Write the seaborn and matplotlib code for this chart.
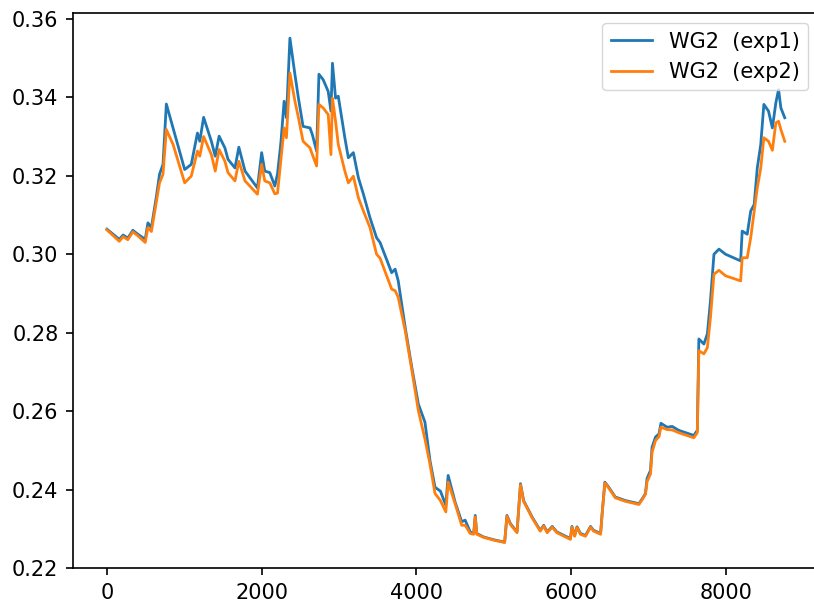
import matplotlib
matplotlib.use("Agg")
import matplotlib.pyplot as plt
import seaborn as sns

# ------------------ Data ------------------
hours = [0, 160, 210, 270, 335, 400, 495, 530, 575, 640, 680, 725, 768, 855,
         1005, 1090, 1170, 1200, 1250, 1350, 1400, 1450, 1525, 1565, 1655,
         1705, 1785, 1945, 2000, 2040, 2105, 2170, 2205, 2250, 2290, 2320,
         2365, 2430, 2475, 2535, 2625, 2655, 2710, 2740, 2795, 2860, 2895,
         2915, 2955, 2990, 3075, 3120, 3185, 3250, 3315, 3400, 3485, 3530,
         3680, 3725, 3765, 3855, 3940, 4025, 4110, 4175, 4240, 4310, 4380,
         4410, 4500, 4585, 4630, 4695, 4740, 4760, 4780, 4870, 5020, 5140,
         5170, 5215, 5300, 5345, 5385, 5495, 5600, 5645, 5690, 5755, 5815,
         5990, 6010, 6045, 6075, 6120, 6185, 6250, 6290, 6380, 6400, 6435,
         6485, 6570, 6700, 6875, 6920, 6960, 6980, 7025, 7045, 7090, 7135,
         7160, 7240, 7305, 7390, 7585, 7630, 7650, 7715, 7760, 7800, 7845,
         7910, 7995, 8190, 8210, 8275, 8320, 8365, 8405, 8450, 8490, 8550,
         8600, 8645, 8680, 8710, 8760]

exp1 = [0.3064, 0.3038, 0.3049, 0.3041, 0.3061, 0.3051, 0.3038, 0.3080, 0.3068,
        0.3148, 0.3204, 0.3229, 0.3383, 0.3322, 0.3216, 0.3229, 0.3309, 0.3288,
        0.3349, 0.3288, 0.3250, 0.3301, 0.3271, 0.3242, 0.3220, 0.3273, 0.3212,
        0.3169, 0.3259, 0.3212, 0.3208, 0.3174, 0.3205, 0.3288, 0.3390, 0.3348,
        0.3551, 0.3458, 0.3398, 0.3326, 0.3322, 0.3305, 0.3263, 0.3459, 0.3445,
        0.3415, 0.3365, 0.3487, 0.3398, 0.3403, 0.3297, 0.3246, 0.3259, 0.3195,
        0.3153, 0.3093, 0.3042, 0.3030, 0.2953, 0.2962, 0.2932, 0.2813, 0.2712,
        0.2618, 0.2572, 0.2474, 0.2406, 0.2396, 0.2360, 0.2436, 0.2368, 0.2318,
        0.2322, 0.2292, 0.2288, 0.2334, 0.2288, 0.2279, 0.2271, 0.2266, 0.2334,
        0.2313, 0.2292, 0.2415, 0.2372, 0.2330, 0.2296, 0.2309, 0.2292, 0.2306,
        0.2292, 0.2275, 0.2306, 0.2283, 0.2305, 0.2288, 0.2283, 0.2306, 0.2296,
        0.2288, 0.2339, 0.2419, 0.2406, 0.2381, 0.2372, 0.2364, 0.2377, 0.2390,
        0.2428, 0.2449, 0.2508, 0.2534, 0.2542, 0.2569, 0.2559, 0.2561, 0.2551,
        0.2538, 0.2551, 0.2784, 0.2771, 0.2797, 0.2881, 0.3000, 0.3013, 0.3000,
        0.2983, 0.3059, 0.3051, 0.3110, 0.3127, 0.3220, 0.3280, 0.3382, 0.3365,
        0.3322, 0.3386, 0.3420, 0.3373, 0.3348]

exp2 = [0.3062, 0.3033, 0.3045, 0.3037, 0.3057, 0.3047, 0.3030, 0.3068, 0.3058,
        0.3135, 0.3182, 0.3204, 0.3318, 0.3280, 0.3182, 0.3199, 0.3263, 0.3250,
        0.3300, 0.3254, 0.3212, 0.3267, 0.3237, 0.3208, 0.3187, 0.3237, 0.3187,
        0.3153, 0.3229, 0.3187, 0.3182, 0.3154, 0.3156, 0.3245, 0.3322, 0.3297,
        0.3462, 0.3390, 0.3348, 0.3288, 0.3271, 0.3254, 0.3225, 0.3382, 0.3373,
        0.3356, 0.3254, 0.3398, 0.3339, 0.3280, 0.3212, 0.3182, 0.3199, 0.3144,
        0.3110, 0.3068, 0.3000, 0.2990, 0.2911, 0.2907, 0.2890, 0.2805, 0.2705,
        0.2601, 0.2529, 0.2465, 0.2390, 0.2372, 0.2343, 0.2419, 0.2364, 0.2309,
        0.2309, 0.2288, 0.2286, 0.2330, 0.2286, 0.2278, 0.2270, 0.2265, 0.2332,
        0.2311, 0.2290, 0.2412, 0.2370, 0.2328, 0.2294, 0.2307, 0.2290, 0.2304,
        0.2290, 0.2273, 0.2304, 0.2281, 0.2303, 0.2286, 0.2281, 0.2304, 0.2294,
        0.2286, 0.2337, 0.2417, 0.2404, 0.2379, 0.2370, 0.2362, 0.2375, 0.2388,
        0.2420, 0.2440, 0.2495, 0.2525, 0.2535, 0.2559, 0.2553, 0.2552, 0.2545,
        0.2532, 0.2545, 0.2754, 0.2746, 0.2762, 0.2839, 0.2949, 0.2959, 0.2945,
        0.2932, 0.2991, 0.2991, 0.3042, 0.3110, 0.3169, 0.3220, 0.3297, 0.3288,
        0.3265, 0.3335, 0.3339, 0.3318, 0.3288]

labels = ['WG2  (exp1)', 'WG2  (exp2)']

# ------------------ Plot ------------------
plt.rcParams['font.size'] = 15
plt.rcParams['axes.linewidth'] = 1.2
for ax_name in ('xtick', 'ytick'):
    plt.rcParams[ax_name + '.major.size'] = 5.25
    plt.rcParams[ax_name + '.major.width'] = 1.2
    plt.rcParams[ax_name + '.major.pad'] = 5.25

fig = plt.figure(figsize=(8.14, 6.06), dpi=100)
ax = fig.add_axes([0.0897, 0.0627, 0.916, 0.916])

sns.lineplot(x=hours, y=exp1, ax=ax, color='#1f77b4', linewidth=2.0, label=labels[0])
sns.lineplot(x=hours, y=exp2, ax=ax, color='#ff7f0e', linewidth=2.0, label=labels[1])

ax.set_xticks([0, 2000, 4000, 6000, 8000])
ax.set_yticks([0.22, 0.24, 0.26, 0.28, 0.30, 0.32, 0.34, 0.36])
ax.set_yticklabels(['0.22', '0.24', '0.26', '0.28', '0.30', '0.32', '0.34', '0.36'])
# the reference is cropped just before the right spine
ax.spines['right'].set_visible(False)
ax.legend(loc='upper right', fontsize=15)

plt.savefig('out.png', dpi=100)
